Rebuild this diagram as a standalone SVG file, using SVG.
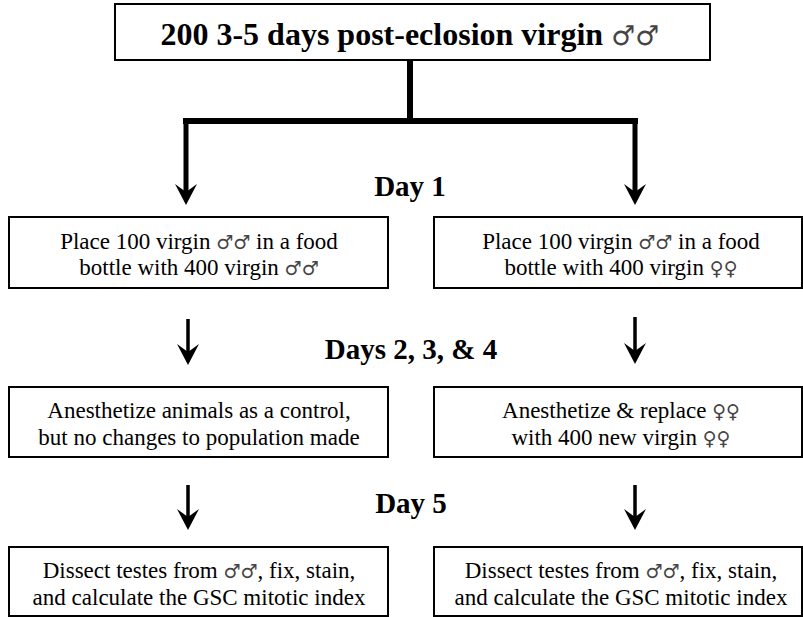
<svg xmlns="http://www.w3.org/2000/svg" width="803" height="617" viewBox="0 0 803 617">
<style>
.box{fill:#fff;stroke:#000;stroke-width:2}
.t{font-size:23px;fill:#000;text-anchor:middle}
.h{font-size:29px;font-weight:bold;fill:#000;text-anchor:middle}
.s{font-weight:normal;font-size:19px;fill:#444}
.line{stroke:#000;fill:none}
.head{fill:#000}
</style>
<defs>
<path id="ah" d="M0,0 L-11,-21 L0,-13 L11,-21 Z"/>
</defs>
<rect width="803" height="617" fill="#fff"/>
<g id="start">
<rect class="box" x="115" y="4" width="595" height="56"/>
<text class="h" x="410" y="45" style="font-family:'Liberation Serif',serif;font-size:32px">200 3-5 days post-eclosion virgin <tspan class="s" style="font-family:'DejaVu Sans',sans-serif;font-size:27px">♂♂</tspan></text>
</g>
<g id="connectors">
<path class="line" d="M410,60 V121 M183,121 H638" stroke-width="6"/>
<path class="line" d="M186,118 V192 M635,118 V192" stroke-width="5"/>
<use href="#ah" x="186" y="205" class="head"/>
<use href="#ah" x="635" y="205" class="head"/>
<path class="line" d="M188,319 V355 M635,317 V355 M188,485 V520 M635,485 V520" stroke-width="3.5"/>
<use href="#ah" x="188" y="365" class="head"/>
<use href="#ah" x="635" y="364" class="head"/>
<use href="#ah" x="188" y="530" class="head"/>
<use href="#ah" x="635" y="530" class="head"/>
</g>
<g id="day1"><text class="h" x="410" y="196" style="font-family:'Liberation Serif',serif">Day 1</text></g>
<g id="day234"><text class="h" x="411" y="359" style="font-family:'Liberation Serif',serif">Days 2, 3, &amp; 4</text></g>
<g id="day5"><text class="h" x="411" y="513" style="font-family:'Liberation Serif',serif">Day 5</text></g>
<g id="place-males">
<rect class="box" x="9" y="217" width="379" height="71"/>
<text class="t" x="199" y="249" style="font-family:'Liberation Serif',serif">Place 100 virgin <tspan class="s" style="font-family:'DejaVu Sans',sans-serif">♂♂</tspan> in a food</text>
<text class="t" x="199" y="275" style="font-family:'Liberation Serif',serif">bottle with 400 virgin <tspan class="s" style="font-family:'DejaVu Sans',sans-serif">♂♂</tspan></text>
</g>
<g id="place-females">
<rect class="box" x="434" y="217" width="368" height="71"/>
<text class="t" x="621" y="249" style="font-family:'Liberation Serif',serif">Place 100 virgin <tspan class="s" style="font-family:'DejaVu Sans',sans-serif">♂♂</tspan> in a food</text>
<text class="t" x="621" y="275" style="font-family:'Liberation Serif',serif">bottle with 400 virgin <tspan class="s" style="font-family:'DejaVu Sans',sans-serif">♀♀</tspan></text>
</g>
<g id="anesth-control">
<rect class="box" x="9" y="387" width="379" height="70"/>
<text class="t" x="199" y="418" style="font-family:'Liberation Serif',serif">Anesthetize animals as a control,</text>
<text class="t" x="199" y="445" style="font-family:'Liberation Serif',serif">but no changes to population made</text>
</g>
<g id="anesth-replace">
<rect class="box" x="434" y="387" width="368" height="70"/>
<text class="t" x="621" y="418" style="font-family:'Liberation Serif',serif">Anesthetize &amp; replace <tspan class="s" style="font-family:'DejaVu Sans',sans-serif">♀♀</tspan></text>
<text class="t" x="621" y="445" style="font-family:'Liberation Serif',serif">with 400 new virgin <tspan class="s" style="font-family:'DejaVu Sans',sans-serif">♀♀</tspan></text>
</g>
<g id="dissect-left">
<rect class="box" x="9" y="547" width="379" height="69"/>
<text class="t" x="199" y="578" style="font-family:'Liberation Serif',serif">Dissect testes from <tspan class="s" style="font-family:'DejaVu Sans',sans-serif">♂♂</tspan>, fix, stain,</text>
<text class="t" x="199" y="605" style="font-family:'Liberation Serif',serif">and calculate the GSC mitotic index</text>
</g>
<g id="dissect-right">
<rect class="box" x="434" y="547" width="368" height="69"/>
<text class="t" x="621" y="578" style="font-family:'Liberation Serif',serif">Dissect testes from <tspan class="s" style="font-family:'DejaVu Sans',sans-serif">♂♂</tspan>, fix, stain,</text>
<text class="t" x="621" y="605" style="font-family:'Liberation Serif',serif">and calculate the GSC mitotic index</text>
</g>
</svg>
